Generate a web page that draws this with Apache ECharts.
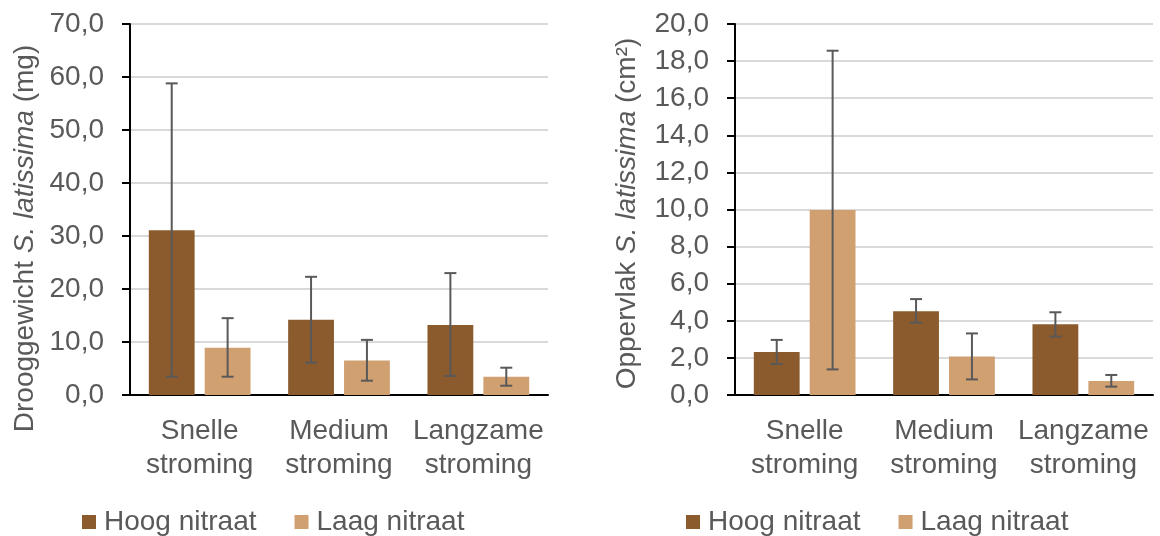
<!DOCTYPE html>
<html>
<head>
<meta charset="utf-8">
<script src="https://cdn.jsdelivr.net/npm/echarts@6/dist/echarts.min.js"></script>
<style>
  html, body { margin: 0; padding: 0; background: #fff; }
  #chart { width: 1160px; height: 536px; }
</style>
</head>
<body>
<div id="chart"></div>
<script>
const categories = ['Snelle\nstroming', 'Medium\nstroming', 'Langzame\nstroming'];
const seriesNames = ['Hoog nitraat', 'Laag nitraat'];

// drooggewicht (mg)
const droogHoog = [31.1, 14.2, 13.2];
const droogLaag = [8.9, 6.5, 3.45];
const droogHoogErr = [[3.45, 58.8], [6.1, 22.3], [3.6, 23.0]];
const droogLaagErr = [[3.45, 14.5], [2.7, 10.4], [1.75, 5.15]];

// oppervlak (cm2)
const opperHoog = [2.32, 4.51, 3.81];
const opperLaag = [9.97, 2.07, 0.75];
const opperHoogErr = [[1.67, 2.97], [3.9, 5.17], [3.15, 4.46]];
const opperLaagErr = [[1.38, 18.56], [0.84, 3.32], [0.45, 1.08]];

const colors = ['#8b5b2e', '#d0a071'];
const font = "'Liberation Sans', Arial, sans-serif";
const textColor = '#595959';
const fs = 28;
const catGap = 0.27, barGap = 0.22;

const chart = echarts.init(document.getElementById('chart'));

function fmt(v) { return v.toFixed(1).replace('.', ','); }

function errData(errs, idx) {
  return errs.map((e, i) => [i, e[0], e[1], idx]);
}

// error bars centred on the bars of series idx
function renderErr(params, api) {
  const cat = api.value(0);
  const idx = api.value(3);
  const band = api.size([1, 0])[0];
  const bw = band * (1 - catGap) / (2 + barGap);
  const off = (bw + bw * barGap) / 2 * (idx === 0 ? -1 : 1);
  const lo = api.coord([cat, api.value(1)]);
  const hi = api.coord([cat, api.value(2)]);
  const x = lo[0] + off;
  const cap = 6;
  const style = { stroke: '#595959', lineWidth: 2 };
  return {
    type: 'group',
    children: [
      { type: 'line', shape: { x1: x, y1: lo[1], x2: x, y2: hi[1] }, style },
      { type: 'line', shape: { x1: x - cap, y1: lo[1], x2: x + cap, y2: lo[1] }, style },
      { type: 'line', shape: { x1: x - cap, y1: hi[1], x2: x + cap, y2: hi[1] }, style }
    ]
  };
}

function xAxis(gi) {
  return {
    type: 'category', gridIndex: gi, data: categories,
    axisLine: { lineStyle: { color: '#000', width: 2 } },
    axisTick: { show: false },
    axisLabel: { color: textColor, fontSize: fs, fontFamily: font, lineHeight: 34, margin: 19, interval: 0 }
  };
}

function yAxis(gi, max, interval, nameRich, gap, shift) {
  return {
    type: 'value', gridIndex: gi, min: 0, max: max, interval: interval,
    name: nameRich, nameLocation: 'middle', nameGap: gap,
    nameTextStyle: {
      color: textColor, fontSize: fs, fontFamily: font,
      padding: [0, shift, 0, 0],
      rich: {
        n: { color: textColor, fontSize: fs, fontFamily: font },
        i: { color: textColor, fontSize: fs, fontFamily: font, fontStyle: 'italic' }
      }
    },
    axisLine: { show: true, lineStyle: { color: '#000', width: 2 } },
    axisTick: { show: true, length: 8, lineStyle: { color: '#000', width: 2 } },
    axisLabel: { color: textColor, fontSize: fs, fontFamily: font, margin: 26, formatter: fmt },
    splitLine: { lineStyle: { color: '#d9d9d9', width: 2 } }
  };
}

function bar(name, data, ci, xi) {
  return {
    name: name, type: 'bar', xAxisIndex: xi, yAxisIndex: xi, data: data,
    barCategoryGap: (catGap * 100) + '%', barGap: (barGap * 100) + '%',
    itemStyle: { color: colors[ci] }
  };
}

function errSeries(data, xi) {
  return {
    type: 'custom', xAxisIndex: xi, yAxisIndex: xi, data: data, z: 5,
    renderItem: renderErr, encode: { x: 0, y: [1, 2] }, silent: true
  };
}

function legend(left) {
  return {
    left: left, top: 508, padding: 0, data: seriesNames,
    itemWidth: 14, itemHeight: 14, itemGap: 38,
    icon: 'rect',
    textStyle: { color: textColor, fontSize: fs, fontFamily: font, padding: [0, 0, 0, 3] }
  };
}

const option = {
  animation: false,
  grid: [
    { left: 130, right: 612, top: 24, bottom: 141 },
    { left: 735, right: 7, top: 24, bottom: 141 }
  ],
  legend: [legend(82), legend(686)],
  xAxis: [xAxis(0), xAxis(1)],
  yAxis: [
    yAxis(0, 70, 10, '{n|Drooggewicht }{i|S. latissima}{n| (mg)}', 91, 58),
    yAxis(1, 20, 2, '{n|Oppervlak }{i|S. latissima}{n| (cm²)}', 94, 8)
  ],
  series: [
    bar(seriesNames[0], droogHoog, 0, 0),
    bar(seriesNames[1], droogLaag, 1, 0),
    errSeries(errData(droogHoogErr, 0), 0),
    errSeries(errData(droogLaagErr, 1), 0),
    bar(seriesNames[0], opperHoog, 0, 1),
    bar(seriesNames[1], opperLaag, 1, 1),
    errSeries(errData(opperHoogErr, 0), 1),
    errSeries(errData(opperLaagErr, 1), 1)
  ]
};

chart.setOption(option);
</script>
</body>
</html>
